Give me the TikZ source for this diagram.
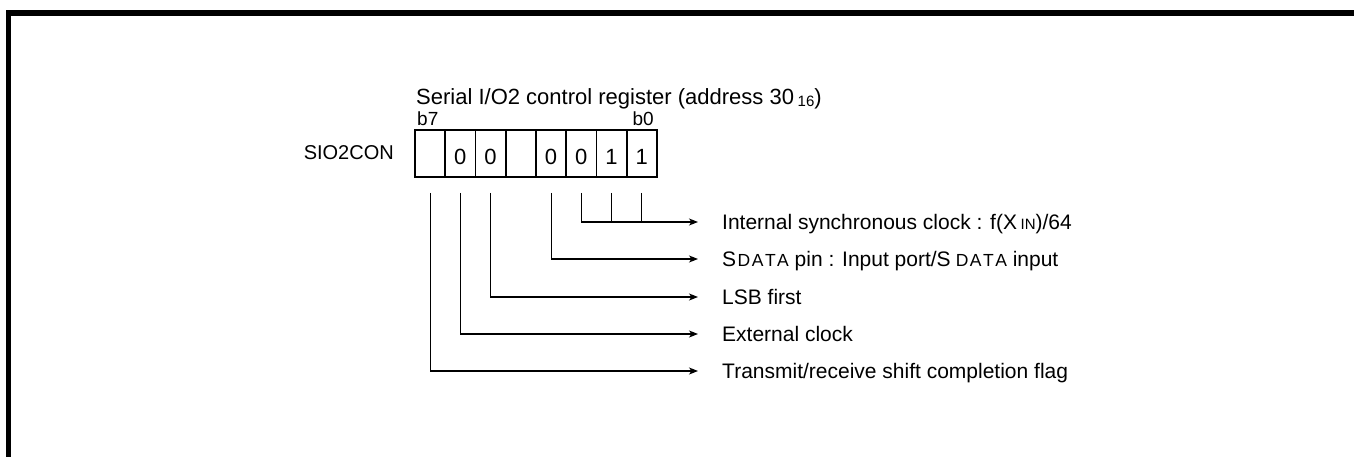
\documentclass[tikz,border=0pt]{standalone}
\usepackage{fontspec}
\setmainfont{Liberation Sans}
\usetikzlibrary{arrows.meta,calc}
\newcommand{\smc}[1]{{\fontsize{15}{15}\selectfont #1}}
\newcommand{\sdata}{{\fontsize{17.5}{17.5}\selectfont\kern1.5pt D\kern1.5pt A\kern1.5pt T\kern1.5pt A}}
\begin{document}
\begin{tikzpicture}[x=1pt,y=-1pt,
  frame/.style={line width=5.5pt},
  cell/.style={draw,line width=1.6pt,minimum width=30.25pt,minimum height=47pt,inner sep=0pt,
    text height=23pt,text depth=0pt,font=\fontsize{22}{22}\selectfont},
  conn/.style={line width=1.1pt},
  arr/.style={conn,-{Stealth[length=9pt,width=7pt,inset=2.5pt]},shorten >=24pt},
  desc/.style={anchor=west,inner sep=0pt,text height=15pt,text depth=0pt,font=\fontsize{21}{21}\selectfont},
  lbl/.style={inner sep=0pt}]
\useasboundingbox (0,0) rectangle (1354,457);
\draw[frame] (8.5,470) -- (8.5,13) -- (1370,13);
% register cells b7..b0
\foreach \i/\v [count=\k from 0] in {7/{},6/0,5/0,4/{},3/0,2/0,1/1,0/1}{
  \node[cell] (c\i) at (430.1+\k*30.25,153.5) {\v};
}
\node[lbl,anchor=base east,font=\fontsize{20}{20}\selectfont] (sio) at (394,160) {SIO2CON};
\node[lbl,anchor=base west,font=\fontsize{22}{22}\selectfont] (title) at (416,105)
  {Serial I/O2 control register (address 30\,\raisebox{-2pt}{\smc{16}})};
\node[lbl,anchor=base west,font=\fontsize{19}{19}\selectfont] (b7) at (417,126) {b7};
\node[lbl,anchor=base east,font=\fontsize{19}{19}\selectfont] (b0) at (654,126) {b0};
% start points of connectors
\foreach \i in {7,6,5,3,2,1,0}{
  \coordinate (s\i) at ($(c\i.south)+(0,15)$);
}
% description texts
\node[desc] (t1) at (722,222) {Internal synchronous clock : f(X\,\smc{IN})/64};
\node[desc] (t2) at (722,259) {S\sdata{} pin : Input port/S\,\sdata{} input};
\node[desc] (t3) at (722,297) {LSB first};
\node[desc] (t4) at (722,334) {External clock};
\node[desc] (t5) at (722,371) {Transmit/receive shift completion flag};
% connectors
\draw[arr] (s2) |- (t1.west);
\draw[conn] (s1) -- (s1 |- t1.west);
\draw[conn] (s0) -- (s0 |- t1.west);
\draw[arr] (s3) |- (t2.west);
\draw[arr] (s5) |- (t3.west);
\draw[arr] (s6) |- (t4.west);
\draw[arr] (s7) |- (t5.west);
\end{tikzpicture}
\end{document}
